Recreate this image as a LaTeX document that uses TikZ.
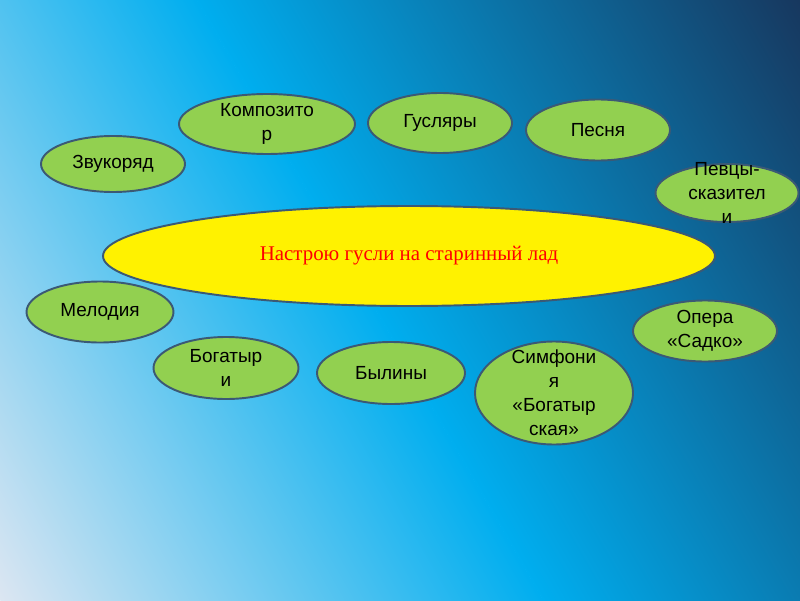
\documentclass[tikz,border=0pt]{standalone}
\usepackage{fontspec}
\setmainfont{Liberation Sans}
\newfontfamily\serifface{Liberation Serif}
\usetikzlibrary{shapes.geometric}

\definecolor{skylight}{HTML}{DCE6F2}
\definecolor{skymid}{HTML}{00AEEF}
\definecolor{skydark}{HTML}{17375E}
\definecolor{leafgreen}{HTML}{92D050}
\definecolor{rimblue}{HTML}{3B5975}

\tikzset{
  bubble/.style={ellipse, draw=rimblue, line width=1.1pt, fill=leafgreen,
    inner sep=-1cm, align=center, font=\fontsize{10.8pt}{13.6pt}\selectfont,
    minimum width=2.88cm, minimum height=1.2cm},
  mainoval/.style={ellipse, draw=rimblue, line width=1.1pt, fill=yellow,
    inner sep=0pt, text=red, font=\serifface\fontsize{11.9pt}{14pt}\selectfont,
    minimum width=12.24cm, minimum height=2cm}
}

\begin{document}
\begin{tikzpicture}
\useasboundingbox (0,0) rectangle (16,12);
% background
\begin{scope}
\clip (0,0) rectangle (16,12);
\begin{scope}[transform canvas={rotate=30}]
\shade [left color=skylight, right color=skymid] (0,-8.5) rectangle (9.41,10.5);
\shade [left color=skymid, right color=skydark] (9.4,-8.5) rectangle (19.9,10.5);
\end{scope}
\end{scope}
% centre
\node [mainoval] (lad) at (8.18,6.88) {Настрою гусли на старинный лад};
% top row
\node [bubble, minimum height=1.12cm] (zvukoryad) at (2.26,8.72) {Звукоряд};
\node [bubble, minimum width=3.52cm] (kompozitor) at (5.34,9.52) {Композито\\р};
\node [bubble] (guslyary) at (8.80,9.54) {Гусляры};
\node [bubble, minimum height=1.22cm] (pesnya) at (11.96,9.40) {Песня};
\node [bubble, minimum width=2.86cm, minimum height=1.16cm] (pevtsy) at (14.54,8.14) {Певцы-\\сказител\\и};
% bottom row
\node [bubble, minimum width=2.94cm, minimum height=1.22cm] (melodiya) at (2.00,5.76) {Мелодия};
\node [bubble, minimum width=2.90cm, minimum height=1.24cm] (bogatyri) at (4.52,4.64) {Богатыр\\и};
\node [bubble, minimum width=2.96cm, minimum height=1.24cm] (byliny) at (7.82,4.54) {Былины};
\node [bubble, minimum width=3.16cm, minimum height=2.06cm] (simfoniya) at (11.08,4.14) {Симфони\\я\\«Богатыр\\ская»};
\node [bubble, minimum height=1.22cm] (opera) at (14.10,5.38) {Опера\\«Садко»};
\end{tikzpicture}
\end{document}
